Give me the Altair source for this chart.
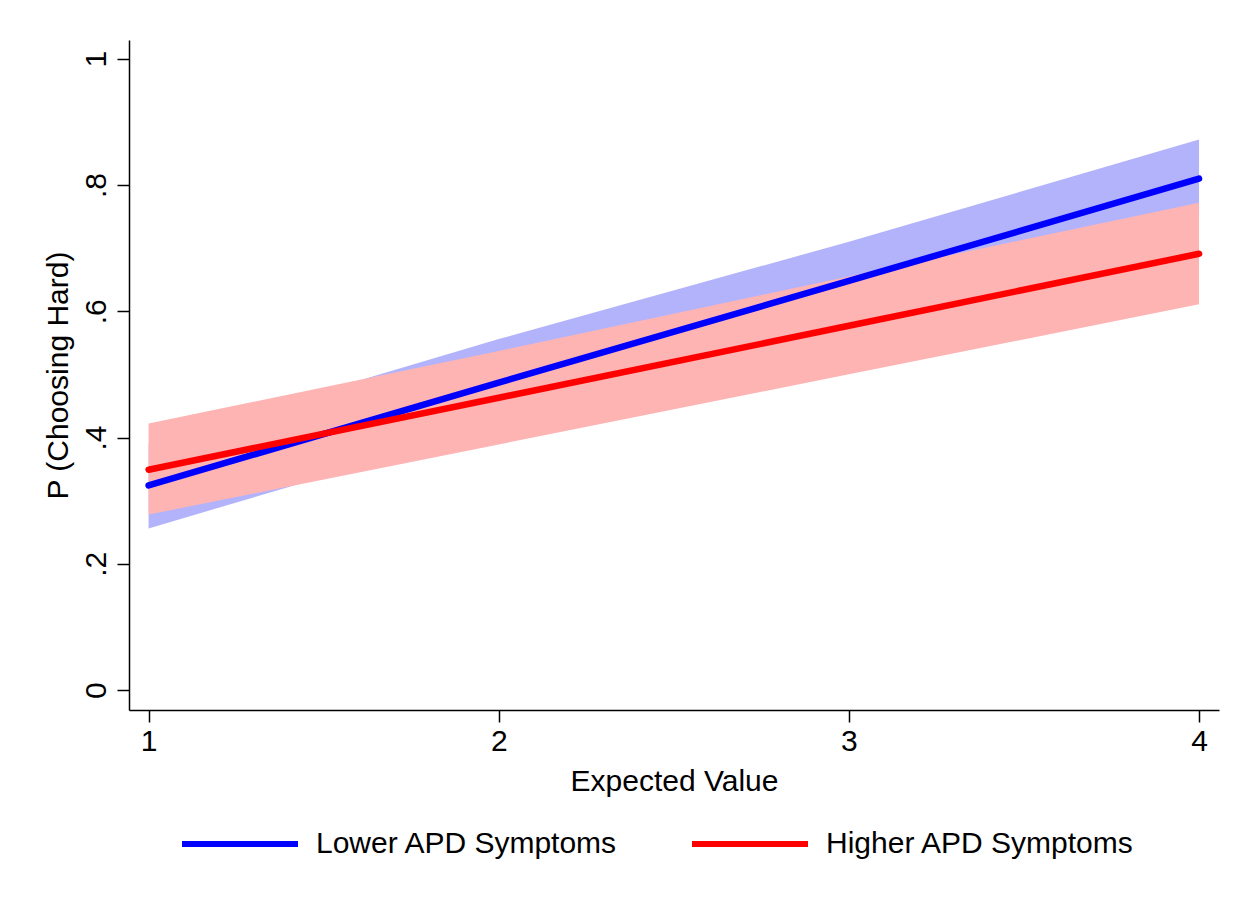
import altair as alt
import pandas as pd

x_vals = [1, 2, 3, 4]
groups = ["Lower APD Symptoms", "Higher APD Symptoms"]

lower_mean = [0.324, 0.487, 0.648, 0.810]
lower_lo = [0.256, 0.420, 0.585, 0.748]
lower_hi = [0.391, 0.556, 0.710, 0.872]

higher_mean = [0.349, 0.463, 0.577, 0.691]
higher_lo = [0.278, 0.389, 0.500, 0.611]
higher_hi = [0.422, 0.537, 0.655, 0.772]

line_colors = ["#0000ff", "#ff0000"]
band_colors = ["#b3b3fb", "#ffb4b4"]

y_ticks = [0, 0.2, 0.4, 0.6, 0.8, 1]
x_ticks = [1, 2, 3, 4]

rows = []
for i, xv in enumerate(x_vals):
    rows.append({"x": xv, "group": groups[0], "mean": lower_mean[i], "lo": lower_lo[i], "hi": lower_hi[i]})
    rows.append({"x": xv, "group": groups[1], "mean": higher_mean[i], "lo": higher_lo[i], "hi": higher_hi[i]})
df = pd.DataFrame(rows)

FONT = "Liberation Sans"

xscale = alt.Scale(domain=[0.944, 4.057], nice=False, zero=False)
yscale = alt.Scale(domain=[-0.0316, 1.0296], nice=False, zero=False)

xaxis = alt.Axis(
    values=x_ticks, format="d", title="Expected Value",
    titleX=545, titleY=80, titleAlign="center", titleBaseline="alphabetic",
    labelFontSize=30, titleFontSize=30, labelPadding=4, tickSize=12,
    grid=False, domainColor="black", tickColor="black", domainWidth=1.5, tickWidth=1.5,
    labelColor="black", titleColor="black", labelFont=FONT, titleFont=FONT,
    titleFontWeight="normal",
)
yaxis = alt.Axis(
    values=y_ticks, title="P (Choosing Hard)",
    labelExpr="datum.value == 0 ? '0' : (datum.value == 1 ? '1' : replace(format(datum.value, '.1f'), '0.', '.'))",
    labelAngle=-90, labelAlign="center", labelBaseline="alphabetic", labelPadding=12,
    titleAngle=270, titleX=-62, titleY=335, titleAlign="center", titleBaseline="alphabetic",
    labelFontSize=30, titleFontSize=30, tickSize=12,
    grid=False, domainColor="black", tickColor="black", domainWidth=1.5, tickWidth=1.5,
    labelColor="black", titleColor="black", labelFont=FONT, titleFont=FONT,
    titleFontWeight="normal",
)

base = alt.Chart(df)

band_low = base.transform_filter(alt.datum.group == groups[0]).mark_area(
    color=band_colors[0], opacity=1
).encode(
    x=alt.X("x:Q", scale=xscale, axis=xaxis),
    y=alt.Y("lo:Q", scale=yscale, axis=yaxis),
    y2="hi:Q",
)
band_high = base.transform_filter(alt.datum.group == groups[1]).mark_area(
    color=band_colors[1], opacity=1
).encode(
    x=alt.X("x:Q", scale=xscale),
    y=alt.Y("lo:Q", scale=yscale),
    y2="hi:Q",
)
lines = base.mark_line(strokeWidth=6.5, strokeCap="round").encode(
    x=alt.X("x:Q", scale=xscale),
    y=alt.Y("mean:Q", scale=yscale),
    color=alt.Color(
        "group:N",
        scale=alt.Scale(domain=groups, range=line_colors),
        sort=groups,
        legend=alt.Legend(
            title=None, orient="none", legendX=50, legendY=743, direction="horizontal",
            symbolType="stroke", symbolSize=13456, symbolStrokeWidth=6,
            labelFontSize=30, labelFont=FONT, labelColor="black", labelOffset=15,
            columnPadding=62, padding=0, labelLimit=500,
        ),
    ),
    detail="group:N",
)

chart = alt.layer(band_low, band_high, lines).properties(
    width=1090, height=670,
    autosize=alt.AutoSizeParams(type="none"),
    padding={"left": 121, "top": 32, "right": 27, "bottom": 189},
    background="white",
).configure_view(stroke=None)

chart.save("out.html", embed_options={"renderer": "svg", "actions": False})
